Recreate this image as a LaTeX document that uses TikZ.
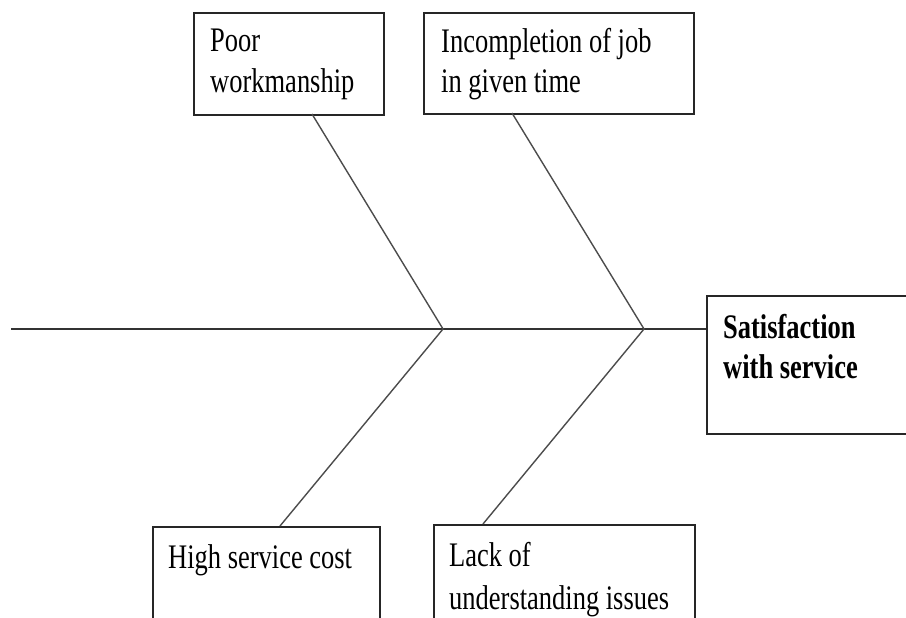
\documentclass[tikz,border=0pt]{standalone}
\usepackage{fontspec}
\setmainfont{Liberation Serif}[FakeStretch=0.77]
\begin{document}
\begin{tikzpicture}[x=1pt,y=-1pt,
  cause/.style={draw=black!85,line width=1.7pt,rectangle,inner sep=0pt,anchor=north west},
  bone/.style={draw=black!70,line width=1.4pt},
  spine/.style={draw=black!80,line width=1.7pt},
  txt/.style={anchor=base west,inner sep=0pt,font=\fontsize{34.4}{40}\selectfont},
  bold txt/.style={txt,font=\fontsize{34.4}{40}\selectfont\bfseries}]
\clip (0,0) rectangle (906,618);
\useasboundingbox (0,0) rectangle (906,618);

% cause boxes
\node[cause,minimum width=190pt,minimum height=102pt] (poor) at (193,12) {};
\node[cause,minimum width=270pt,minimum height=101pt] (incomp) at (423,12) {};
\node[cause,minimum width=227pt,minimum height=120pt] (cost) at (152,526) {};
\node[cause,minimum width=261pt,minimum height=122pt] (lack) at (433,524) {};
% effect box, open past the right border
\node[cause,minimum width=230pt,minimum height=138pt] (effect) at (706,295) {};

% box texts
\node[txt] (tpoor) at (210,52) {Poor};
\node[txt] (tpoor2) at (210,93) {workmanship};
\node[txt] (tinc) at (441,53) {Incompletion of job};
\node[txt] (tinc2) at (441,93) {in given time};
\node[txt] (tcost) at (168,568) {High service cost};
\node[txt] (tlack) at (449,566) {Lack of};
\node[txt] (tlack2) at (449,609) {understanding issues};
\node[bold txt] (teff) at (723,338) {Satisfaction};
\node[bold txt] (teff2) at (723,378) {with service};

% junction points on the spine and bone ends on the boxes
\coordinate (tail) at (11,329);
\coordinate (j1) at (443,329);
\coordinate (j2) at (644,329);
\coordinate (poorfoot) at (312,114);
\coordinate (incfoot) at (512,113);
\coordinate (costtop) at (280,526);
\coordinate (lacktop) at (483,524);

% spine
\draw[spine] (tail) -- (j1) -- (j2) -- (effect.west |- j2);
% bones
\draw[bone] (poorfoot) -- (j1) -- (costtop);
\draw[bone] (incfoot) -- (j2) -- (lacktop);
\end{tikzpicture}
\end{document}
